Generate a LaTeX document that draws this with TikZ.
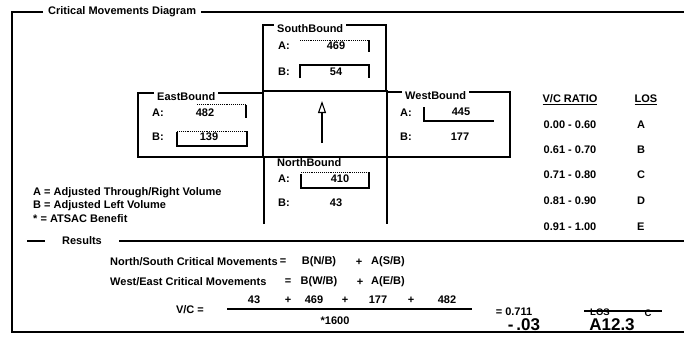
\documentclass[tikz,border=0pt]{standalone}
\usepackage{fontspec}
\setmainfont{Liberation Sans}
\usepackage{tikz}
\usetikzlibrary{arrows.meta,positioning}

\begin{document}
\begin{tikzpicture}[x=1pt, y=-1pt,
  every node/.style={font=\fontsize{11}{13.5}\selectfont\bfseries, inner sep=0pt},
  frame/.style={line width=2.6pt},
  boxline/.style={line width=1.4pt},
  fieldline/.style={line width=1.1pt},
  faint/.style={line width=0.9pt, densely dotted},
  caption/.style={anchor=west, fill=white, inner xsep=3pt, inner ysep=1.5pt},
  hand/.style={font=\fontsize{17}{17}\selectfont\bfseries, anchor=south},
  scrawl/.style={font=\fontsize{9.5}{9.5}\selectfont\bfseries}
]
  \useasboundingbox (0,0) rectangle (684,349);

  \node[caption, inner xsep=5pt] (title) at (43,12) {Critical Movements Diagram};
  \draw[frame] (title.west) -- (12,12) -- (12,332) -- (684,332);
  \draw[frame] (title.east) -- (684,12);

  \draw[boxline] (263,25) rectangle (386,91);
  \draw[boxline] (138,93) rectangle (263,157);
  \draw[boxline] (387,92) rectangle (510,157);
  \draw[boxline] (264,224) -- (264,157) -- (387,157) -- (387,224);
  \node[draw, boxline, minimum width=124pt, minimum height=66pt] (core) at (325,124) {};

  \node[caption] (sbTitle) at (274,29) {SouthBound};
  \node[caption] (ebTitle) at (154,97) {EastBound};
  \node[caption] (wbTitle) at (402,96) {WestBound};
  \node[anchor=west] (nbTitle) at (277,163) {NorthBound};

  \node[anchor=west] (sbA) at (278,46) {A:};
  \node (sbAval) at (336,46) {469};
  \node[anchor=west] (sbB) at (278,72) {B:};
  \node (sbBval) at (336,72) {54};
  \draw[faint] (300,40) -- (369,40);
  \draw[fieldline] (369,40) -- (369,52);
  \draw[fieldline] (300,78) -- (300,65) -- (369,65) -- (369,78);

  \node[anchor=west] (ebA) at (152,113) {A:};
  \node (ebAval) at (205,113) {482};
  \node[anchor=west] (ebB) at (152,137) {B:};
  \node (ebBval) at (209,137) {139};
  \draw[faint] (197,104) -- (246,104);
  \draw[fieldline] (246,105) -- (246,118);
  \draw[faint] (177,131) -- (247,131);
  \draw[fieldline] (177,132) -- (177,146) -- (247,146) -- (247,131);

  \node[anchor=west] (wbA) at (400,113) {A:};
  \node (wbAval) at (461,112) {445};
  \node[anchor=west] (wbB) at (400,137) {B:};
  \node (wbBval) at (460,137) {177};
  \draw[fieldline] (424,107) -- (424,121) -- (494,121);

  \node[anchor=west] (nbA) at (278,179) {A:};
  \node (nbAval) at (340,179) {410};
  \node[anchor=west] (nbB) at (278,203) {B:};
  \node (nbBval) at (336,203) {43};
  \draw[faint] (301,172) -- (369,172);
  \draw[fieldline] (301,174) -- (301,188) -- (369,188) -- (369,172);

  \coordinate (arrowTail) at (322,143);
  \coordinate (arrowTip) at (322,101);
  \draw[fieldline, -{Triangle[open, length=12pt, width=8pt, line width=1.1pt]}] (arrowTail) -- (arrowTip);

  \node[anchor=north west, align=left] (legend) at (33,187) {A = Adjusted Through/Right Volume\\ B = Adjusted Left Volume\\ * = ATSAC Benefit};

  \node (ratioHead) at (570,100) {\underline{V/C RATIO}};
  \node (losHead) at (646,100) {\underline{LOS}};
  \node (range1) at (570,125) {0.00 - 0.60};
  \node[anchor=west] (los1) at (637,125) {A};
  \node (range2) at (570,150) {0.61 - 0.70};
  \node[anchor=west] (los2) at (637,150) {B};
  \node (range3) at (570,175) {0.71 - 0.80};
  \node[anchor=west] (los3) at (637,175) {C};
  \node (range4) at (570,201) {0.81 - 0.90};
  \node[anchor=west] (los4) at (637,201) {D};
  \node (range5) at (570,227) {0.91 - 1.00};
  \node[anchor=west] (los5) at (637,227) {E};

  \node[inner xsep=17pt] (results) at (82,241) {Results};
  \draw[boxline] (27,241) -- (results.west);
  \draw[boxline] (results.east) -- (684,241);

  \node[anchor=west] (nsLabel) at (110,262) {North/South Critical Movements};
  \node (nsEq) at (283,262) {=};
  \node (nsB) at (319,262) {B(N/B)};
  \node (nsPlus) at (359,262) {+};
  \node (nsA) at (388,262) {A(S/B)};
  \node[anchor=west] (weLabel) at (110,282) {West/East Critical Movements};
  \node (weEq) at (288,282) {=};
  \node (weB) at (319,282) {B(W/B)};
  \node (wePlus) at (360,282) {+};
  \node (weA) at (388,282) {A(E/B)};

  \node (vc) at (190,310) {V/C =};
  \coordinate (barL) at (227,309);
  \coordinate (barR) at (472,309);
  \draw[fieldline] (barL) -- (barR);
  \node (num1) at (254,300) {43};
  \node (num2) at (288,300) {+};
  \node (num3) at (314,300) {469};
  \node (num4) at (345,300) {+};
  \node (num5) at (378,300) {177};
  \node (num6) at (411,300) {+};
  \node (num7) at (447,300) {482};
  \node (denom) at (335,321) {*1600};
  \node (result) at (514,312) {= 0.711};

  \node[scrawl] (losNote) at (600,312) {LOS};
  \node[scrawl] (cNote) at (648,313) {C};
  \draw[fieldline] (584,311) -- (662,311);
  \node[hand] (delta) at (524,331) {-\,.03};
  \node[hand] (noteTag) at (612,331) {A12.3};
\end{tikzpicture}
\end{document}
